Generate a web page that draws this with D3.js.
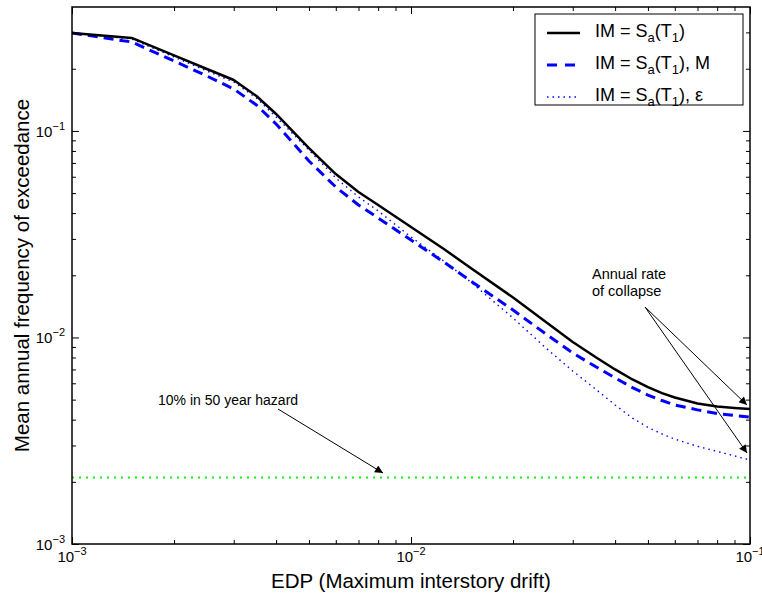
<!DOCTYPE html>
<html>
<head>
<meta charset="utf-8">
<script src="https://cdn.jsdelivr.net/npm/d3@7"></script>
<style>
  body { margin: 0; background: #fff; }
  text { font-family: "Liberation Sans", Arial, Helvetica, sans-serif; }
</style>
</head>
<body>
<div id="chart"></div>
<script>
const width = 762;
const height = 600;
const margin = { top: 7, right: 12, bottom: 56, left: 72 };

// drift values (EDP)
const drift = [0.001, 0.0015, 0.002, 0.0025, 0.003, 0.0035, 0.004, 0.005, 0.006, 0.007, 0.008,
  0.01, 0.0125, 0.015, 0.02, 0.025, 0.03, 0.035, 0.04, 0.045, 0.05, 0.055, 0.06, 0.07, 0.08, 0.09, 0.1];

// mean annual frequency of exceedance, one array per IM
const rateSa = [0.298, 0.282, 0.232, 0.1995, 0.1764, 0.1476, 0.1208, 0.0826, 0.0618, 0.0506, 0.0438,
  0.03425, 0.02682, 0.02169, 0.01561, 0.01188, 0.00951, 0.00804, 0.0070, 0.00626, 0.00575, 0.00538,
  0.00512, 0.00479, 0.00463, 0.00456, 0.0045];
const rateSaM = [0.298, 0.2695, 0.2181, 0.1844, 0.1596, 0.1335, 0.108, 0.0715, 0.0535, 0.0438, 0.0379,
  0.02964, 0.02318, 0.01877, 0.01358, 0.01039, 0.00841, 0.00723, 0.00637, 0.00572, 0.00526, 0.00495,
  0.00471, 0.00446, 0.00428, 0.00419, 0.00412];
const rateSaEps = [0.298, 0.2786, 0.228, 0.195, 0.1725, 0.1443, 0.1168, 0.0808, 0.0592, 0.0479, 0.041,
  0.03065, 0.02345, 0.01855, 0.01242, 0.00889, 0.00688, 0.00563, 0.00471, 0.00407, 0.00367, 0.00341,
  0.00322, 0.00297, 0.00281, 0.00267, 0.00255];

const hazardRate = 0.0021; // 10% in 50 years
const majorTicksX = [1e-3, 1e-2, 1e-1];
const majorTicksY = [1e-3, 1e-2, 1e-1];
const tickExp = ["\u22123", "\u22122", "\u22121"];

const svg = d3.select("#chart").append("svg")
  .attr("width", width)
  .attr("height", height);

const x = d3.scaleLog().domain([1e-3, 1e-1]).range([margin.left, width - margin.right]);
const y = d3.scaleLog().domain([1e-3, Math.pow(10, -0.4)]).range([height - margin.bottom, margin.top]);

const defs = svg.append("defs");
defs.append("clipPath").attr("id", "plotclip")
  .append("rect")
  .attr("x", margin.left).attr("y", margin.top)
  .attr("width", width - margin.left - margin.right)
  .attr("height", height - margin.top - margin.bottom);

defs.append("marker")
  .attr("id", "arrow")
  .attr("viewBox", "0 0 10 10")
  .attr("refX", 10).attr("refY", 5)
  .attr("markerWidth", 12).attr("markerHeight", 8)
  .attr("markerUnits", "userSpaceOnUse")
  .attr("orient", "auto")
  .append("path")
  .attr("d", "M0,0 L10,5 L0,10 z")
  .attr("fill", "black");

// minor ticks
function minorTicks(scale) {
  const [a, b] = scale.domain();
  const out = [];
  for (let e = Math.floor(Math.log10(a)); e <= Math.ceil(Math.log10(b)); e++) {
    for (let m = 2; m <= 9; m++) {
      const v = m * Math.pow(10, e);
      if (v > a && v < b) out.push(v);
    }
  }
  return out;
}

const plotW = width - margin.left - margin.right;
const plotH = height - margin.top - margin.bottom;

function addAxis(axis, tx, ty) {
  const g = svg.append("g").attr("transform", `translate(${tx},${ty})`).call(axis);
  g.select(".domain").remove();
  g.selectAll("line").attr("stroke", "black").attr("stroke-width", 1);
  return g;
}

// inward ticks on all four sides
addAxis(d3.axisBottom(x).tickValues(minorTicks(x)).tickSize(-4).tickFormat(""), 0, height - margin.bottom);
addAxis(d3.axisBottom(x).tickValues(majorTicksX).tickSize(-7).tickFormat(""), 0, height - margin.bottom);
addAxis(d3.axisTop(x).tickValues(minorTicks(x)).tickSize(-4).tickFormat(""), 0, margin.top);
addAxis(d3.axisTop(x).tickValues(majorTicksX).tickSize(-7).tickFormat(""), 0, margin.top);
addAxis(d3.axisLeft(y).tickValues(minorTicks(y)).tickSize(-4).tickFormat(""), margin.left, 0);
addAxis(d3.axisLeft(y).tickValues(majorTicksY).tickSize(-7).tickFormat(""), margin.left, 0);
addAxis(d3.axisRight(y).tickValues(minorTicks(y)).tickSize(-4).tickFormat(""), width - margin.right, 0);
addAxis(d3.axisRight(y).tickValues(majorTicksY).tickSize(-7).tickFormat(""), width - margin.right, 0);

// tick labels with superscripts
majorTicksX.forEach((v, i) => {
  const t = svg.append("text")
    .attr("x", x(v)).attr("y", height - margin.bottom + 18)
    .attr("text-anchor", "middle")
    .attr("font-size", 15);
  t.append("tspan").text("10");
  t.append("tspan").attr("dy", -7).attr("font-size", 11).text(tickExp[i]);
});
majorTicksY.forEach((v, i) => {
  const t = svg.append("text")
    .attr("x", margin.left - 7).attr("y", y(v) + 6)
    .attr("text-anchor", "end")
    .attr("font-size", 15);
  t.append("tspan").text("10");
  t.append("tspan").attr("dy", -7).attr("font-size", 11).text(tickExp[i]);
});

// axis labels
svg.append("text")
  .attr("x", (margin.left + width - margin.right) / 2)
  .attr("y", 588)
  .attr("text-anchor", "middle")
  .attr("font-size", 20.5)
  .text("EDP (Maximum interstory drift)");

svg.append("text")
  .attr("transform", `translate(29,${(margin.top + height - margin.bottom) / 2}) rotate(-90)`)
  .attr("text-anchor", "middle")
  .attr("font-size", 20.5)
  .text("Mean annual frequency of exceedance");

// curves
const plot = svg.append("g").attr("clip-path", "url(#plotclip)");

const line = d3.line()
  .x((d) => x(d[0]))
  .y((d) => y(d[1]));

plot.append("line")
  .attr("x1", x(1e-3)).attr("x2", x(1e-1))
  .attr("y1", y(hazardRate)).attr("y2", y(hazardRate))
  .attr("stroke", "#11ee11")
  .attr("stroke-width", 2)
  .attr("stroke-dasharray", "2,5");

const series = [
  { values: rateSaEps, color: "#0000ff", width: 1.4, dash: "1.5,4" },
  { values: rateSaM, color: "#0000ff", width: 3, dash: "10,6" },
  { values: rateSa, color: "black", width: 2.5, dash: null }
];

series.forEach((s) => {
  plot.append("path")
    .datum(drift.map((d, i) => [d, s.values[i]]))
    .attr("d", line)
    .attr("fill", "none")
    .attr("stroke", s.color)
    .attr("stroke-width", s.width)
    .attr("stroke-linejoin", "round")
    .attr("stroke-dasharray", s.dash);
});

// box
svg.append("rect")
  .attr("x", margin.left).attr("y", margin.top)
  .attr("width", plotW).attr("height", plotH)
  .attr("fill", "none")
  .attr("stroke", "black")
  .attr("stroke-width", 1.5);

// annotations
svg.append("text")
  .attr("x", 158).attr("y", 405)
  .attr("font-size", 14)
  .text("10% in 50 year hazard");
svg.append("line")
  .attr("x1", 278).attr("y1", 409)
  .attr("x2", 383).attr("y2", 473)
  .attr("stroke", "black").attr("stroke-width", 1)
  .attr("marker-end", "url(#arrow)");

const collapse = svg.append("text").attr("x", 592).attr("y", 279).attr("font-size", 14.5);
collapse.append("tspan").attr("x", 592).text("Annual rate");
collapse.append("tspan").attr("x", 592).attr("dy", 17).text("of collapse");

svg.append("line")
  .attr("x1", 645).attr("y1", 307)
  .attr("x2", 747).attr("y2", 405)
  .attr("stroke", "black").attr("stroke-width", 1)
  .attr("marker-end", "url(#arrow)");
svg.append("line")
  .attr("x1", 645).attr("y1", 307)
  .attr("x2", 747).attr("y2", 453)
  .attr("stroke", "black").attr("stroke-width", 1)
  .attr("marker-end", "url(#arrow)");

// legend
const legend = svg.append("g");
legend.append("rect")
  .attr("x", 535).attr("y", 14)
  .attr("width", 208).attr("height", 91)
  .attr("fill", "white")
  .attr("stroke", "black")
  .attr("stroke-width", 1);

const legendRows = [
  { suffix: "", color: "black", width: 2.5, dash: null, y: 33 },
  { suffix: ", M", color: "#0000ff", width: 3, dash: "10,8", y: 65 },
  { suffix: ", \u03b5", color: "#0000ff", width: 1.4, dash: "1.5,4", y: 97 }
];

legendRows.forEach((r) => {
  legend.append("line")
    .attr("x1", 547).attr("x2", 580)
    .attr("y1", r.y).attr("y2", r.y)
    .attr("stroke", r.color)
    .attr("stroke-width", r.width)
    .attr("stroke-dasharray", r.dash);
  const t = legend.append("text")
    .attr("x", 595).attr("y", r.y + 4)
    .attr("font-size", 18);
  t.append("tspan").text("IM = S");
  t.append("tspan").attr("dy", 5).attr("font-size", 13).text("a");
  t.append("tspan").attr("dy", -5).text("(T");
  t.append("tspan").attr("dy", 5).attr("font-size", 13).text("1");
  t.append("tspan").attr("dy", -5).text(")" + r.suffix);
});
</script>
</body>
</html>
